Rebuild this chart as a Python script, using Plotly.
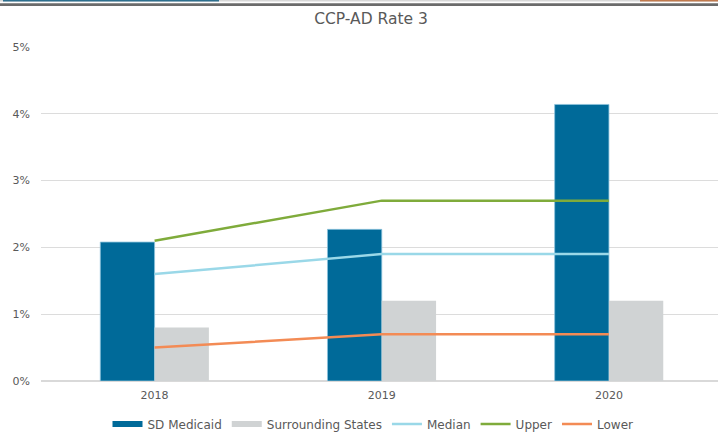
import plotly.graph_objects as go

years = ["2018", "2019", "2020"]
sd_medicaid = [2.08, 2.27, 4.14]
surrounding = [0.8, 1.2, 1.2]
median = [1.6, 1.9, 1.9]
upper = [2.1, 2.7, 2.7]
lower = [0.5, 0.7, 0.7]
y_ticks = [0, 1, 2, 3, 4, 5]
y_tick_labels = ["0%", "1%", "2%", "3%", "4%", "5%"]

W, H = 718, 432
ML, MR, MT, MB = 41, 0, 47, 51
FONT = "DejaVu Sans"
TXT = "#595959"
BLUE = "#006a99"
GREY = "#d0d3d4"

fig = go.Figure()
fig.add_trace(go.Bar(x=years, y=sd_medicaid, name="SD Medicaid", legendgroup="sd", showlegend=False,
                     marker=dict(color=BLUE, line=dict(color="#8cc3dc", width=0.8))))
fig.add_trace(go.Bar(x=years, y=surrounding, name="Surrounding States", legendgroup="ss", showlegend=False,
                     marker=dict(color=GREY, line=dict(width=0))))
# legend-only entries drawn as wide flat swatches (like the reference legend)
fig.add_trace(go.Scatter(x=[None], y=[None], name="SD Medicaid", legendgroup="sd", mode="lines",
                         line=dict(color=BLUE, width=6)))
fig.add_trace(go.Scatter(x=[None], y=[None], name="Surrounding States", legendgroup="ss", mode="lines",
                         line=dict(color=GREY, width=6)))
fig.add_trace(go.Scatter(x=years, y=median, name="Median", mode="lines",
                         line=dict(color="#9ad8e8", width=2.5)))
fig.add_trace(go.Scatter(x=years, y=upper, name="Upper", mode="lines",
                         line=dict(color="#7fab3b", width=2.5)))
fig.add_trace(go.Scatter(x=years, y=lower, name="Lower", mode="lines",
                         line=dict(color="#f38b55", width=2.5)))

pw = W - ML - MR
ph = H - MT - MB
def px_x(p):
    return (p - ML) / pw
def px_y(p):
    return (H - MB - p) / ph

shapes = [
    dict(type="rect", xref="paper", yref="paper", x0=px_x(0), x1=px_x(W), y0=px_y(1.5), y1=px_y(0),
         fillcolor="#d8d8d8", line=dict(width=0), layer="above"),
    dict(type="rect", xref="paper", yref="paper", x0=px_x(3), x1=px_x(219), y0=px_y(1.5), y1=px_y(0),
         fillcolor="#2e6f8e", line=dict(width=0), layer="above"),
    dict(type="rect", xref="paper", yref="paper", x0=px_x(640), x1=px_x(W), y0=px_y(1.5), y1=px_y(0),
         fillcolor="#c07a4e", line=dict(width=0), layer="above"),
    dict(type="rect", xref="paper", yref="paper", x0=px_x(0), x1=px_x(W), y0=px_y(6), y1=px_y(3.3),
         fillcolor="#6b6b6b", line=dict(width=0), layer="above"),
]

fig.update_layout(
    width=W, height=H,
    margin=dict(l=ML, r=MR, t=MT, b=MB, pad=0, autoexpand=False),
    paper_bgcolor="white", plot_bgcolor="white",
    barmode="group", bargap=0.522, bargroupgap=0,
    font=dict(family=FONT, color=TXT, size=11),
    title=dict(text="CCP-AD Rate 3", x=371 / W, xanchor="center", y=1 - 19 / H, yanchor="middle",
               font=dict(family=FONT, size=15.5, color=TXT)),
    xaxis=dict(range=[-0.5, 2.48], showgrid=False, showline=False, zeroline=False,
               ticks="", tickfont=dict(size=11, color=TXT), ticklabelstandoff=6),
    yaxis=dict(range=[0, 5], tickvals=y_ticks, ticktext=y_tick_labels,
               showgrid=True, gridcolor="#dcdcdc", gridwidth=1,
               zeroline=True, zerolinecolor="#d9d9d9", zerolinewidth=1.5,
               showline=False, ticks="", tickfont=dict(size=11, color=TXT),
               ticklabelstandoff=10),
    legend=dict(orientation="h", x=px_x(373), xanchor="center",
                y=px_y(424), yanchor="middle", font=dict(size=12, color=TXT),
                itemwidth=30, traceorder="normal", bgcolor="rgba(0,0,0,0)"),
    shapes=shapes,
    showlegend=True,
)

fig.write_html("out.html", config={"displayModeBar": False},
               post_script="document.body.style.margin='0';document.body.style.padding='0';")
